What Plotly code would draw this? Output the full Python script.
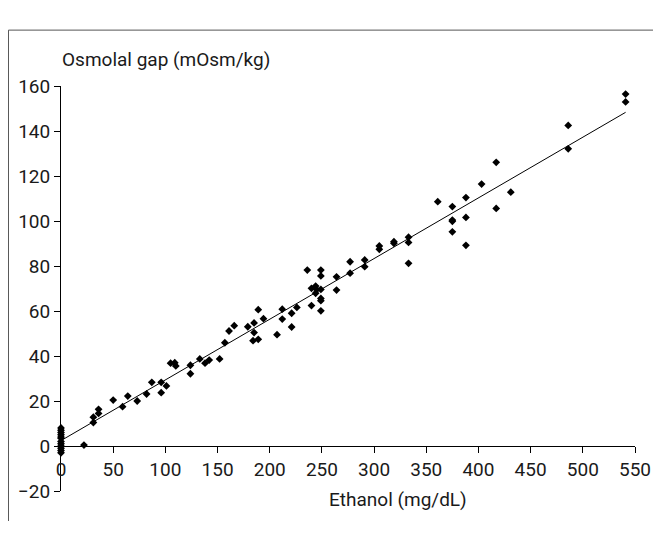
import plotly.graph_objects as go

# Ethanol (mg/dL) vs osmolal gap (mOsm/kg)
ethanol = [0, 0, 0, 0, 0, 0, 0, 0, 0, 0, 0, 0,
           22, 31, 31, 36, 36, 50, 59, 64, 73, 82, 87, 96, 96, 101, 105, 109, 110,
           124, 124, 133, 138, 142, 152, 157, 161, 166, 179, 185, 185, 184, 189, 189, 194,
           207, 212, 212, 221, 221, 226, 236, 240, 240, 244, 245, 244, 249, 249, 249, 249, 249, 249,
           264, 264, 277, 277, 291, 291, 305, 305, 319, 319, 333, 333, 333,
           361, 375, 375, 375, 375, 388, 388, 388, 403, 417, 417, 431, 486, 486, 541, 541]
osmolal_gap = [8, 7, 6, 5, 4, 3.5, 2, 1, 0, -1, -2, -3,
               0.4, 10.4, 12.8, 14.5, 16.3, 20.4, 17.5, 22.2, 20.0, 23.1, 28.3, 23.7, 28.3, 26.7, 36.8, 37.0, 35.6,
               35.9, 32.1, 38.7, 36.8, 38.2, 38.7, 45.9, 51.1, 53.5, 53.0, 54.7, 50.4, 46.8, 47.4, 60.6, 56.6,
               49.5, 60.8, 56.4, 59.0, 52.9, 61.6, 78.2, 62.4, 70.1, 71.1, 69.6, 67.9, 78.2, 75.6, 69.6, 65.6, 64.6, 60.1,
               75.2, 69.3, 81.9, 76.8, 82.7, 79.7, 88.9, 87.4, 90.8, 90.1, 92.8, 90.5, 81.2,
               108.6, 106.4, 100.4, 99.9, 95.2, 110.4, 101.6, 89.2, 116.4, 126.1, 105.6, 112.8, 142.5, 132.1, 156.4, 152.9]

# regression line end points
fit_x = [0, 541]
fit_y = [2.4, 148.3]

x_ticks = [0, 50, 100, 150, 200, 250, 300, 350, 400, 450, 500, 550]
y_ticks = [-20, 0, 20, 40, 60, 80, 100, 120, 140, 160]

FONT = "Roboto, Liberation Sans Narrow, sans-serif"
TXT = "#1a1a1a"
FS = 19

fig = go.Figure()
fig.add_trace(go.Scatter(x=fit_x, y=fit_y, mode="lines",
                         line=dict(color="black", width=1), cliponaxis=False,
                         hoverinfo="skip", showlegend=False))
fig.add_trace(go.Scatter(x=ethanol, y=osmolal_gap, mode="markers",
                         marker=dict(symbol="diamond", size=6, color="black"),
                         cliponaxis=False, showlegend=False))

# the page body adds an 8px margin on every side, so the figure is kept
# smaller than the window to avoid scrollbars
fig.update_layout(
    width=645, height=513,
    margin=dict(l=53, r=18, t=78, b=30, autoexpand=False),
    paper_bgcolor="white", plot_bgcolor="white",
    font=dict(family=FONT, size=FS, color=TXT),
    xaxis=dict(range=[0, 550], tickvals=x_ticks, ticks="outside", ticklen=6,
               tickcolor="black", showline=True, linecolor="black", linewidth=1,
               showgrid=False, zeroline=False, anchor="free", position=20 / 180,
               automargin=False,
               tickfont=dict(family=FONT, size=FS, color=TXT)),
    yaxis=dict(range=[-20, 160], tickvals=y_ticks, ticks="outside", ticklen=6,
               tickcolor="black", showline=True, linecolor="black", linewidth=1,
               showgrid=False, zeroline=False, domain=[0, 1], automargin=False,
               tickfont=dict(family=FONT, size=FS, color=TXT)),
    annotations=[
        dict(text="Osmolal gap (mOsm/kg)", xref="paper", yref="paper",
             x=-0.002, y=1.066, xanchor="left", yanchor="middle",
             showarrow=False, font=dict(family=FONT, size=FS, color=TXT)),
        dict(text="Ethanol (mg/dL)", xref="paper", yref="paper",
             x=0.587, y=-0.022, xanchor="center", yanchor="middle",
             showarrow=False, font=dict(family=FONT, size=FS, color=TXT)),
    ],
    shapes=[
        dict(type="line", xref="paper", yref="paper", x0=-0.0915, x1=1.06,
             y0=1.138, y1=1.138, line=dict(color="#555", width=1)),
        dict(type="line", xref="paper", yref="paper", x0=-0.0915, x1=-0.0915,
             y0=1.138, y1=-0.08, line=dict(color="#555", width=1)),
    ],
)

fig.write_html("out.html", config={"responsive": False})
